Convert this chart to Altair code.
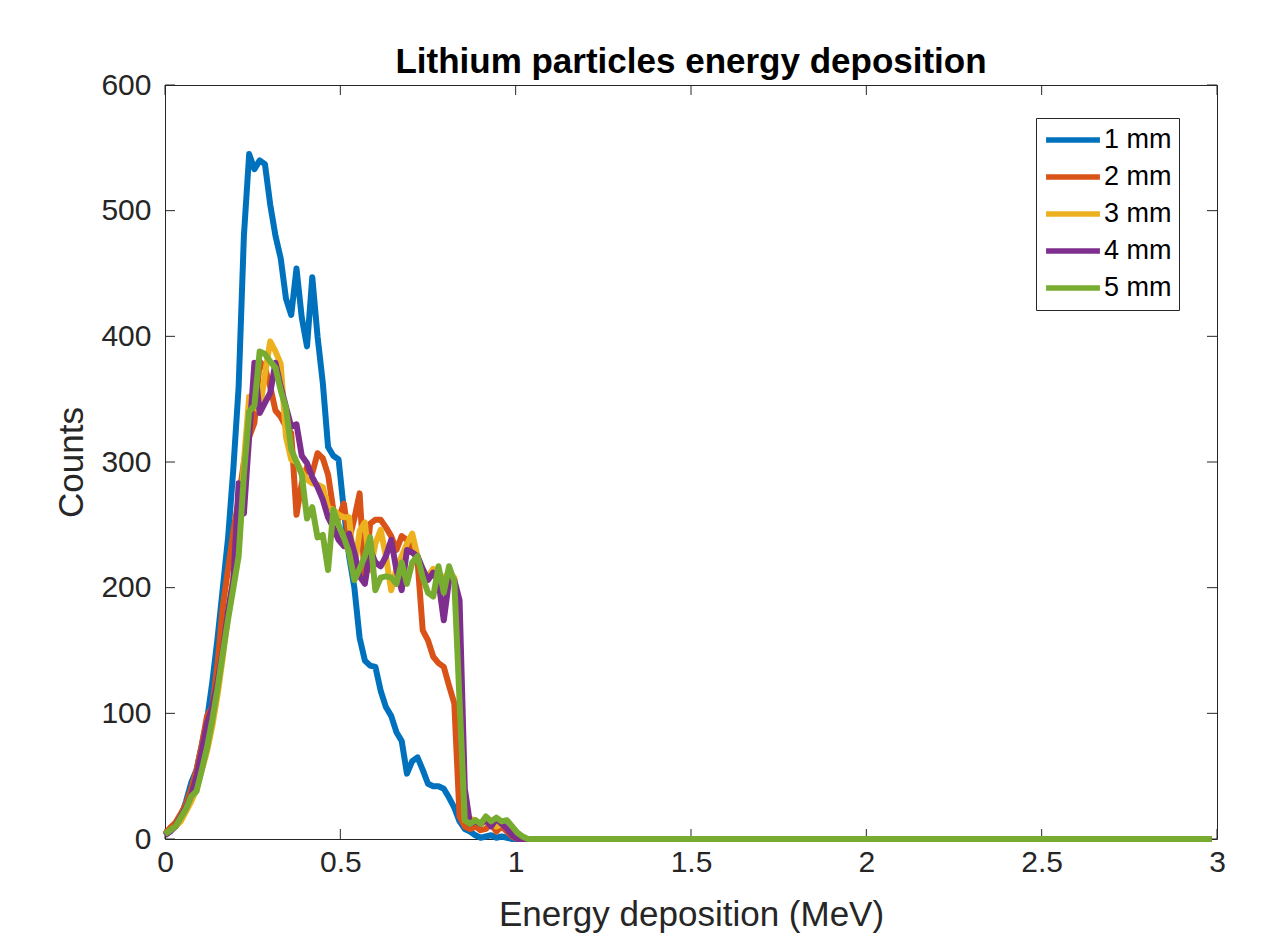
import altair as alt
import pandas as pd

# Histogram grid: 200 bins of 0.015 MeV from 0 to 3 MeV
N_BINS = 200
BIN_WIDTH = 0.015
energy = [round(i * BIN_WIDTH, 3) for i in range(N_BINS)]

# Counts per bin for each detector thickness (bins beyond the listed ones are empty)
counts_1mm = [3, 8, 12, 17, 30, 45, 55, 75, 95, 125,
              160, 200, 240, 295, 360, 480, 545, 533, 540, 537,
              505, 480, 462, 430, 417, 454, 415, 392, 447, 400,
              363, 312, 305, 302, 262, 225, 200, 160, 142, 138,
              137, 118, 105, 98, 85, 78, 52, 62, 65, 55,
              44, 42, 42, 40, 33, 25, 14, 8, 6, 3,
              1, 2, 3, 1, 2, 1, 0]
counts_2mm = [4, 9, 13, 20, 28, 40, 55, 75, 98, 105,
              140, 185, 215, 245, 270, 300, 320, 331, 380, 375,
              360, 341, 336, 328, 323, 258, 283, 296, 291, 307,
              303, 290, 262, 255, 267, 238, 255, 275, 205, 251,
              254, 254, 248, 241, 230, 241, 238, 230, 222, 166,
              158, 145, 140, 137, 122, 108, 18, 10, 8, 10,
              7, 8, 12, 6, 10, 6, 2, 0]
counts_3mm = [3, 7, 10, 14, 22, 30, 40, 55, 70, 90,
              115, 145, 180, 210, 230, 300, 352, 345, 340, 370,
              396, 388, 378, 320, 302, 300, 292, 286, 283, 282,
              280, 264, 262, 258, 256, 256, 214, 245, 252, 214,
              235, 246, 225, 198, 215, 225, 235, 243, 225, 212,
              209, 215, 205, 208, 212, 208, 150, 15, 16, 15,
              12, 14, 12, 10, 12, 8, 4, 0]
counts_4mm = [3, 6, 10, 18, 25, 35, 50, 70, 92, 105,
              125, 150, 182, 206, 283, 259, 320, 379, 339, 347,
              355, 379, 360, 344, 328, 330, 305, 299, 288, 280,
              270, 256, 248, 238, 233, 243, 228, 209, 203, 230,
              220, 217, 225, 238, 214, 198, 230, 228, 225, 215,
              206, 212, 205, 174, 206, 206, 190, 40, 12, 14,
              12, 15, 10, 16, 12, 8, 3, 0]
counts_5mm = [4, 7, 10, 17, 24, 34, 38, 55, 73, 95,
              120, 148, 175, 200, 225, 290, 340, 345, 388, 386,
              380, 375, 357, 343, 310, 300, 290, 255, 264, 240,
              242, 214, 262, 250, 240, 228, 206, 215, 225, 240,
              198, 208, 209, 208, 203, 220, 203, 220, 225, 208,
              196, 193, 217, 196, 217, 205, 110, 15, 12, 15,
              12, 18, 14, 17, 14, 15, 10, 5, 2, 0]

series_names = ["1 mm", "2 mm", "3 mm", "4 mm", "5 mm"]
series_counts = [counts_1mm, counts_2mm, counts_3mm, counts_4mm, counts_5mm]
series_colors = ["#0072BD", "#D95319", "#EDB120", "#7E2F8E", "#77AC30"]

x_ticks = [0, 0.5, 1, 1.5, 2, 2.5, 3]
y_ticks = [0, 100, 200, 300, 400, 500, 600]

TITLE = "Lithium particles energy deposition"
X_TITLE = "Energy deposition (MeV)"
Y_TITLE = "Counts"

rows = []
for name, vals in zip(series_names, series_counts):
    full = vals + [0] * (N_BINS - len(vals))
    for e, c in zip(energy, full):
        rows.append({"energy": e, "counts": c, "series": name})
df = pd.DataFrame(rows)

W, H = 1052, 754
FONT = "Liberation Sans"
AXIS_COLOR = "#262626"
TICK_LEN = 10

x_scale = alt.Scale(domain=[0, 3], nice=False, zero=False)
y_scale = alt.Scale(domain=[0, 600], nice=False, zero=False)

x_axis = alt.Axis(values=x_ticks, format="~g", ticks=False, domain=False,
                  grid=False, labelFlush=False, labelOverlap=False,
                  labelFont=FONT, labelFontSize=30, labelColor=AXIS_COLOR,
                  labelPadding=8, title=X_TITLE,
                  titleFont=FONT, titleFontSize=35, titleFontWeight="normal",
                  titleColor=AXIS_COLOR, titlePadding=20)
y_axis = alt.Axis(values=y_ticks, format="d", ticks=False, domain=False,
                  grid=False, labelFlush=False, labelOverlap=False,
                  labelFont=FONT, labelFontSize=30, labelColor=AXIS_COLOR,
                  labelPadding=14, title=Y_TITLE,
                  titleFont=FONT, titleFontSize=35, titleFontWeight="normal",
                  titleColor=AXIS_COLOR, titlePadding=11)

lines = alt.Chart(df).mark_line(strokeWidth=6, strokeJoin="round").encode(
    x=alt.X("energy:Q", scale=x_scale, axis=x_axis),
    y=alt.Y("counts:Q", scale=y_scale, axis=y_axis),
    color=alt.Color("series:N",
                    scale=alt.Scale(domain=series_names, range=series_colors),
                    legend=alt.Legend(title=None, orient="none", legendX=871, legendY=33,
                                      direction="vertical", symbolType="stroke",
                                      symbolSize=2900, symbolStrokeWidth=5.5,
                                      clipHeight=30, rowPadding=7,
                                      labelFont=FONT, labelFontSize=27,
                                      labelColor="black", labelOffset=1,
                                      padding=7, strokeColor=AXIS_COLOR,
                                      fillColor="white", cornerRadius=0)),
    order=alt.Order("energy:Q"),
)

# Inward tick marks on all four sides of the box
xt = pd.DataFrame({"energy": x_ticks})
yt = pd.DataFrame({"counts": y_ticks})

tick_style = dict(color=AXIS_COLOR, strokeWidth=1)
x_bottom = alt.Chart(xt).mark_rule(**tick_style).encode(
    x=alt.X("energy:Q", scale=x_scale, axis=x_axis),
    y=alt.value(H), y2=alt.value(H - TICK_LEN))
x_top = alt.Chart(xt).mark_rule(**tick_style).encode(
    x=alt.X("energy:Q", scale=x_scale, axis=x_axis),
    y=alt.value(0), y2=alt.value(TICK_LEN))
y_left = alt.Chart(yt).mark_rule(**tick_style).encode(
    y=alt.Y("counts:Q", scale=y_scale, axis=y_axis),
    x=alt.value(0), x2=alt.value(TICK_LEN))
y_right = alt.Chart(yt).mark_rule(**tick_style).encode(
    y=alt.Y("counts:Q", scale=y_scale, axis=y_axis),
    x=alt.value(W), x2=alt.value(W - TICK_LEN))

title = alt.Chart(pd.DataFrame({"t": [TITLE]})).mark_text(
    font=FONT, fontSize=35, fontWeight="bold", color="black",
    align="center", baseline="alphabetic",
).encode(text="t:N", x=alt.value(W / 2), y=alt.value(-12))

chart = alt.layer(x_bottom, x_top, y_left, y_right, lines, title).properties(
    width=W, height=H,
    autosize=alt.AutoSizeParams(type="none"),
    padding={"left": 165, "top": 85, "right": 55, "bottom": 104},
    background="white",
).configure_view(stroke=AXIS_COLOR, strokeWidth=1)

chart.save("out.html", embed_options={"renderer": "svg", "actions": False})
